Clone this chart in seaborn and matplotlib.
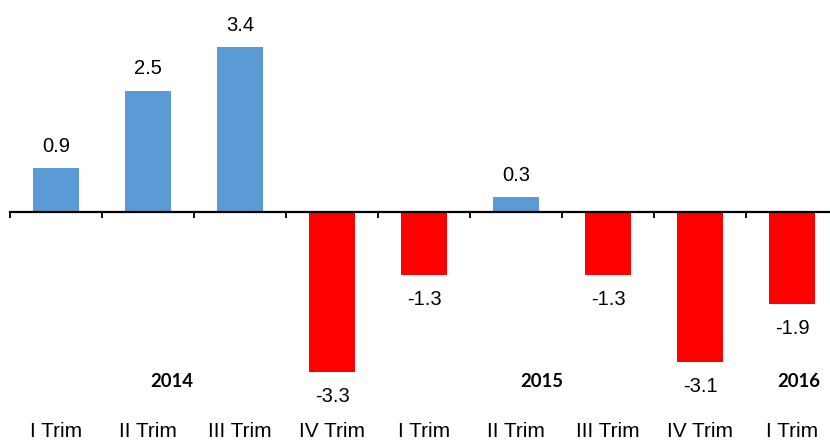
import numpy as np
import pandas as pd
import matplotlib
matplotlib.use("Agg")
import matplotlib.pyplot as plt
import seaborn as sns

# ---- data ----
categories = ["I Trim", "II Trim", "III Trim", "IV Trim",
              "I Trim", "II Trim", "III Trim", "IV Trim", "I Trim"]
values = [0.9, 2.5, 3.4, -3.3, -1.3, 0.3, -1.3, -3.1, -1.9]
years = ["2014", "2015", "2016"]

# ---- layout ----
year_x = [1.26, 5.28, 8.07]      # data-x positions of year labels
POS_COLOR = "#5B9BD5"
NEG_COLOR = "#FF0000"

sns.set_theme(style="white")
plt.rcParams["font.family"] = ["Liberation Sans", "DejaVu Sans"]

W, H, DPI = 830, 441, 100
fig = plt.figure(figsize=(W / DPI, H / DPI), dpi=DPI)
ax = fig.add_axes([0, 0, 1, 1])

df = pd.DataFrame({"idx": np.arange(len(values)), "value": values})
colors = [POS_COLOR if v >= 0 else NEG_COLOR for v in values]
sns.barplot(data=df, x="idx", y="value", hue="idx", palette=colors,
            legend=False, width=0.51, saturation=1, ax=ax, linewidth=0)

for s in ["top", "right", "left"]:
    ax.spines[s].set_visible(False)
ax.spines["bottom"].set_position(("data", 0))
ax.spines["bottom"].set_bounds(-0.5, len(values) - 0.5)
ax.spines["bottom"].set_color("black")
ax.spines["bottom"].set_linewidth(1.6)
ax.set_xticks(np.arange(-0.5, len(values) + 0.5, 1.0))
ax.set_xticklabels([])
ax.tick_params(axis="x", direction="out", length=4.5, width=1.3,
               color="black", bottom=True)
ax.set_yticks([])
ax.set_xlabel("")
ax.set_ylabel("")
ax.grid(False)

# pixel-based scale: 92 px per category, 48.5 px per unit, zero at y=212
px_cat = 92.0
px_unit = 48.5
x0_px = 10.0
zero_px = 212.0
ax.set_xlim(-0.5 - x0_px / px_cat, -0.5 + (W - x0_px) / px_cat)
ax.set_ylim(-(H - zero_px) / px_unit, zero_px / px_unit)

# value labels
for i, v in enumerate(values):
    off = 22 if v >= 0 else -24
    ax.annotate(f"{v:.1f}", (i, v), xytext=(0, off * 0.72),
                textcoords="offset points", ha="center", va="center",
                fontsize=14.5, color="black",
                family=["Liberation Sans", "DejaVu Sans"])

# category labels (baseline at ~437 px)
cat_y = (zero_px - 437) / px_unit
for i, c in enumerate(categories):
    ax.text(i, cat_y, c, ha="center", va="baseline", fontsize=15,
            color="black", family=["Liberation Sans", "DejaVu Sans"])

# year labels (baseline at ~387 px)
year_y = (zero_px - 387) / px_unit
for xp, y in zip(year_x, years):
    ax.text(xp, year_y, y, ha="center", va="baseline", fontsize=13.3,
            fontweight="bold", family=["Lato", "DejaVu Sans"], color="black")

fig.savefig("out.png", dpi=DPI)
